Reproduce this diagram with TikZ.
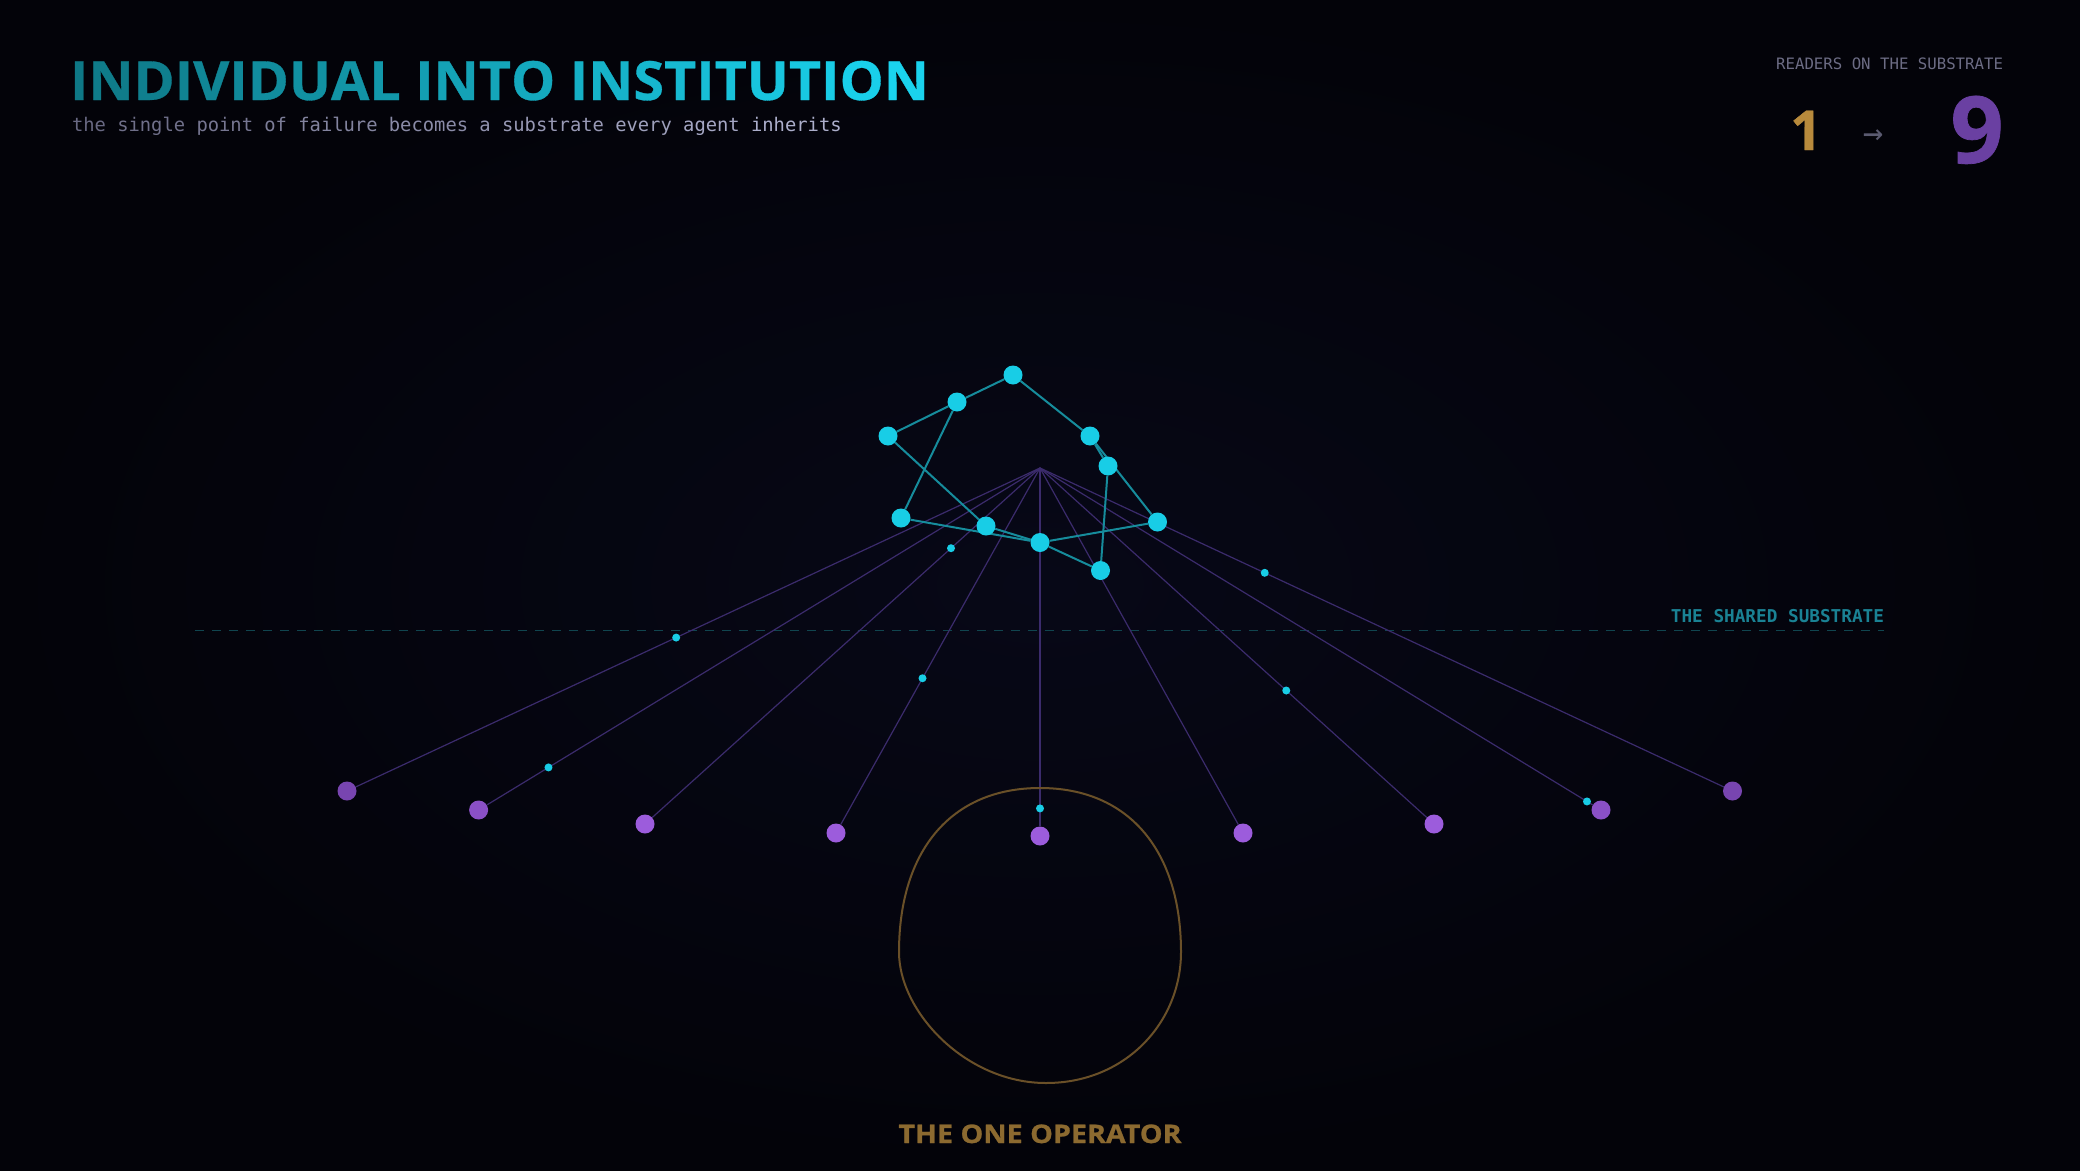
\documentclass[tikz,border=0pt]{standalone}
\usepackage{fontspec}
\usetikzlibrary{calc}
\newfontfamily\titlef{Open Sans}[BoldFeatures={FakeBold=0.6,FakeStretch=1.03}]
\newfontfamily\operf{Open Sans}[BoldFeatures={FakeBold=1.0,FakeStretch=1.12}]
\newfontfamily\numf{Open Sans}[BoldFeatures={FakeBold=0.8}]
\newfontfamily\monof{DejaVu Sans Mono}
\newfontfamily\symf{DejaVu Sans Mono}
\definecolor{bgout}{HTML}{030309}
\definecolor{bgin}{HTML}{070817}
\definecolor{tA}{HTML}{0E7886}
\definecolor{tB}{HTML}{1AD3EE}
\definecolor{sA}{HTML}{686882}
\definecolor{sB}{HTML}{ACAECB}
\definecolor{cyanN}{HTML}{18CDE6}
\definecolor{cyanE}{HTML}{168C9C}
\definecolor{fanC}{HTML}{3B2B6C}
\definecolor{purA}{HTML}{9C5CDC}
\definecolor{purB}{HTML}{8A50C6}
\definecolor{purC}{HTML}{7845B0}
\definecolor{goldT}{HTML}{8C6A30}
\definecolor{goldL}{HTML}{6A5028}
\definecolor{oneC}{HTML}{B88A3C}
\definecolor{nineC}{HTML}{6A40A2}
\definecolor{greyA}{HTML}{5A5A70}
\definecolor{greyL}{HTML}{6C6C84}
\definecolor{tealL}{HTML}{1A8294}
\definecolor{dashC}{HTML}{10454F}
\newcommand\ttlc[2]{\textcolor{tB!#1!tA}{#2}}
\newcommand\subc[2]{\textcolor{sB!#1!sA}{#2}}
\pgfdeclarelayer{bottom}
\pgfdeclarelayer{background}
\pgfsetlayers{bottom,background,main}
\begin{document}
\begin{tikzpicture}[x=1pt,y=-1pt,
  cyn/.style={circle,fill=cyanN,minimum size=19pt,inner sep=0pt},
  dotc/.style={circle,fill=cyanN,minimum size=8pt,inner sep=0pt},
  pur/.style={circle,fill=#1,minimum size=19pt,inner sep=0pt},
  edge/.style={draw=cyanE,line width=2pt},
  fan/.style={draw=fanC,line width=1.2pt},
  txt/.style={inner sep=0pt,outer sep=0pt}]
\useasboundingbox (0,0) rectangle (2080,1170);
\begin{pgfonlayer}{bottom}
\fill[bgout] (0,0) rectangle (2080,1170);
\shade[inner color=bgin,outer color=bgout] (0,0) rectangle (2080,1170);
\end{pgfonlayer}

% texts
\node[txt,anchor=base west,font=\titlef\bfseries\fontsize{54}{54}\selectfont] (title) at (70,100)
{\ttlc{0}{I}\ttlc{4}{N}\ttlc{8}{D}\ttlc{12}{I}\ttlc{15}{V}\ttlc{19}{I}\ttlc{23}{D}\ttlc{27}{U}\ttlc{31}{A}\ttlc{35}{L} \ttlc{42}{I}\ttlc{46}{N}\ttlc{50}{T}\ttlc{54}{O} \ttlc{62}{I}\ttlc{65}{N}\ttlc{69}{S}\ttlc{73}{T}\ttlc{77}{I}\ttlc{81}{T}\ttlc{85}{U}\ttlc{88}{T}\ttlc{92}{I}\ttlc{96}{O}\ttlc{100}{N}};
\node[txt,anchor=base west,font=\monof\fontsize{18.8}{18.8}\selectfont] (sub) at (72,131)
{\subc{0}{the} \subc{10}{single} \subc{20}{point} \subc{30}{of} \subc{40}{failure} \subc{50}{becomes} \subc{60}{a} \subc{70}{substrate} \subc{80}{every} \subc{90}{agent} \subc{100}{inherits}};
\node[txt,anchor=base east,text=greyL,font=\monof\fontsize{15.7}{15.7}\selectfont] (readers) at (2003,69) {READERS ON THE SUBSTRATE};
\node[txt,anchor=base,text=oneC,font=\numf\bfseries\fontsize{55}{55}\selectfont] (one) at (1806,150) {1};
\node[txt,anchor=center,text=greyA,font=\symf\fontsize{34}{34}\selectfont] (arr) at (1873,137) {→};
\node[txt,anchor=base,text=nineC,font=\numf\bfseries\fontsize{93}{93}\selectfont] (nine) at (1977,163) {9};
\node[txt,anchor=base east,text=tealL,font=\monof\bfseries\fontsize{17.7}{17.7}\selectfont] (shared) at (1884,622) {THE SHARED SUBSTRATE};
\node[txt,anchor=base,text=goldT,font=\operf\bfseries\fontsize{25.6}{25.6}\selectfont] (oper) at (1040,1143) {THE ONE OPERATOR};

% substrate network
\node[cyn] (A) at (1013,375) {};
\node[cyn] (B) at (957,402) {};
\node[cyn] (C) at (888,436) {};
\node[cyn] (D) at (1090,436) {};
\node[cyn] (E) at (1108,466) {};
\node[cyn] (F) at (901,518) {};
\node[cyn] (G) at (986,526) {};
\node[cyn] (H) at (1040,542.5) {};
\node[cyn] (I) at (1157.5,522) {};
\node[cyn] (J) at (1100.5,570.5) {};
\coordinate (apex) at (1040,468);

% readers
\node[pur=purC] (P1) at (347,791) {};
\node[pur=purB] (P2) at (478.6,810) {};
\node[pur=purA] (P3) at (645,824) {};
\node[pur=purA] (P4) at (836,833) {};
\node[pur=purA] (P5) at (1040,836) {};
\node[pur=purA] (P6) at (1243,833) {};
\node[pur=purA] (P7) at (1434,824) {};
\node[pur=purB] (P8) at (1601,810) {};
\node[pur=purC] (P9) at (1732.5,791) {};

% moving dots
\node[dotc] (d1) at ($(apex)!0.525!(P1)$) {};
\node[dotc] (d2) at ($(apex)!0.8755!(P2)$) {};
\node[dotc] (d3) at ($(apex)!0.2253!(P3)$) {};
\node[dotc] (d4) at ($(apex)!0.576!(P4)$) {};
\node[dotc] (d5) at ($(apex)!0.925!(P5)$) {};
\node[dotc] (d6) at ($(apex)!0.625!(P7)$) {};
\node[dotc] (d7) at ($(apex)!0.975!(P8)$) {};
\node[dotc] (d8) at ($(apex)!0.3245!(P9)$) {};

% operator outline points
\coordinate (ot) at (1040,788);
\coordinate (or) at (1181,952);
\coordinate (ob) at (1046,1083);
\coordinate (ol) at (899,952);

\begin{pgfonlayer}{background}
\coordinate (sl) at (195,630.5);
\coordinate (sr) at (1884,630.5);
\draw[dashC,line width=1.5pt,dash pattern=on 9pt off 8pt] (sl) -- (sr);
\foreach \p in {P1,P2,P3,P4,P5,P6,P7,P8,P9} \draw[fan] (apex) -- (\p);
\draw[edge] (A) -- (B) -- (C);
\draw[edge] (A) -- (D) -- (E);
\draw[edge] (D) -- (I);
\draw[edge] (E) -- (J);
\draw[edge] (B) -- (F);
\draw[edge] (C) -- (G);
\draw[edge] (F) -- (H);
\draw[edge] (G) -- (H);
\draw[edge] (H) -- (I);
\draw[edge] (H) -- (J);
\draw[goldL,line width=2pt] (ot) .. controls (1130,788) and (1181,852) .. (or)
  .. controls (1181,1022) and (1126,1083) .. (ob)
  .. controls (966,1083) and (899,1012) .. (ol)
  .. controls (899,852) and (950,788) .. (ot) -- cycle;
\end{pgfonlayer}
\end{tikzpicture}
\end{document}
